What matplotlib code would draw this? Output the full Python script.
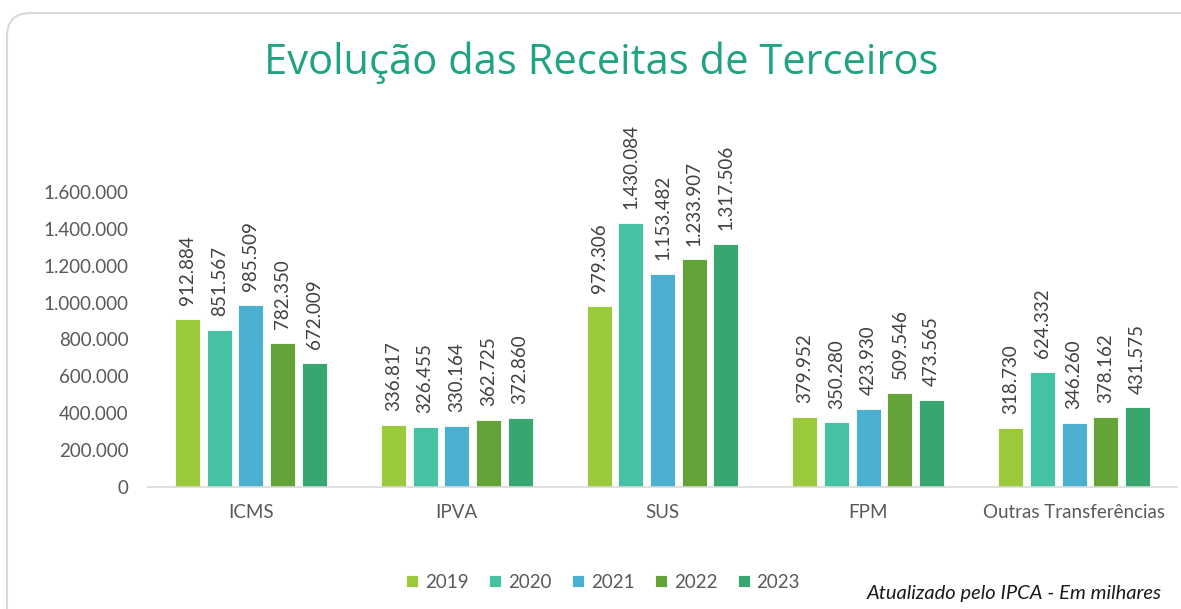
import matplotlib
matplotlib.use("Agg")
import matplotlib.pyplot as plt
import numpy as np
from matplotlib.patches import FancyBboxPatch

categories = ["ICMS", "IPVA", "SUS", "FPM", "Outras Transferências"]
years = ["2019", "2020", "2021", "2022", "2023"]
values = {
    "2019": [912884, 336817, 979306, 379952, 318730],
    "2020": [851567, 326455, 1430084, 350280, 624332],
    "2021": [985509, 330164, 1153482, 423930, 346260],
    "2022": [782350, 362725, 1233907, 509546, 378162],
    "2023": [672009, 372860, 1317506, 473565, 431575],
}
colors = ["#9ACA3C", "#45C1A4", "#4BAFD0", "#64A338", "#37A66F"]
yticks = [0, 200000, 400000, 600000, 800000, 1000000, 1200000, 1400000, 1600000]


def fmt(v):
    return f"{v:,}".replace(",", ".")


plt.rcParams["font.family"] = ["Lato", "DejaVu Sans"]

fig = plt.figure(figsize=(11.81, 6.09), dpi=100)

# rounded frame around the chart (behind everything)
frame = FancyBboxPatch((7 / 1181, -0.05), 1.1, 1 - 13 / 609 + 0.05,
                       boxstyle="round,pad=0,rounding_size=0.02",
                       transform=fig.transFigure, fc="none", ec="#D9D9D9",
                       lw=1.5, mutation_aspect=1181 / 609, zorder=-1)
fig.patches.append(frame)

ax = fig.add_axes([148 / 1181, 122 / 609, 1029 / 1181, 295 / 609])
ax.set_facecolor("none")

x = np.arange(len(categories))
step = 0.154
width = 0.1215
for i, yr in enumerate(years):
    pos = x + (i - 2) * step
    bars = ax.bar(pos, values[yr], width, color=colors[i], edgecolor="white",
                  linewidth=0.6, label=yr)
    for b, v in zip(bars, values[yr]):
        ax.annotate(fmt(v), (b.get_x() + b.get_width() / 2, v),
                    xytext=(0, 10), textcoords="offset points",
                    rotation=90, ha="center", va="bottom", fontsize=13.5,
                    color="#404040", annotation_clip=False)

ax.set_xlim(-0.5, len(categories) - 0.5)
ax.set_ylim(0, 1600000)
ax.set_yticks(yticks)
ax.set_yticklabels([fmt(t) for t in yticks], fontsize=13.5, color="#595959")
ax.set_xticks(x)
ax.set_xticklabels(categories, fontsize=13.5, color="#595959")
ax.tick_params(length=0, axis="y", pad=14)
ax.tick_params(length=0, axis="x", pad=12)
for s in ["top", "right", "left"]:
    ax.spines[s].set_visible(False)
ax.spines["bottom"].set_color("#D9D9D9")
ax.spines["bottom"].set_linewidth(1.2)

fig.text(601 / 1181, 1 - 63 / 609, "Evolução das Receitas de Terceiros",
         ha="center", va="center", fontsize=30, color="#1FA383",
         family=["Open Sans", "DejaVu Sans"])

ax.legend(loc="center", bbox_to_anchor=(603 / 1181, 1 - 582 / 609),
          bbox_transform=fig.transFigure, ncol=5, frameon=False,
          fontsize=13.5, handlelength=0.65, handleheight=0.65, handletextpad=0.35,
          columnspacing=1.1, labelcolor="#595959")

fig.text(1162 / 1181, 1 - 593 / 609, "Atualizado pelo IPCA - Em milhares",
         ha="right", va="center", fontsize=14.5, style="italic", color="#1a1a1a")

fig.savefig("out.png", dpi=100)
